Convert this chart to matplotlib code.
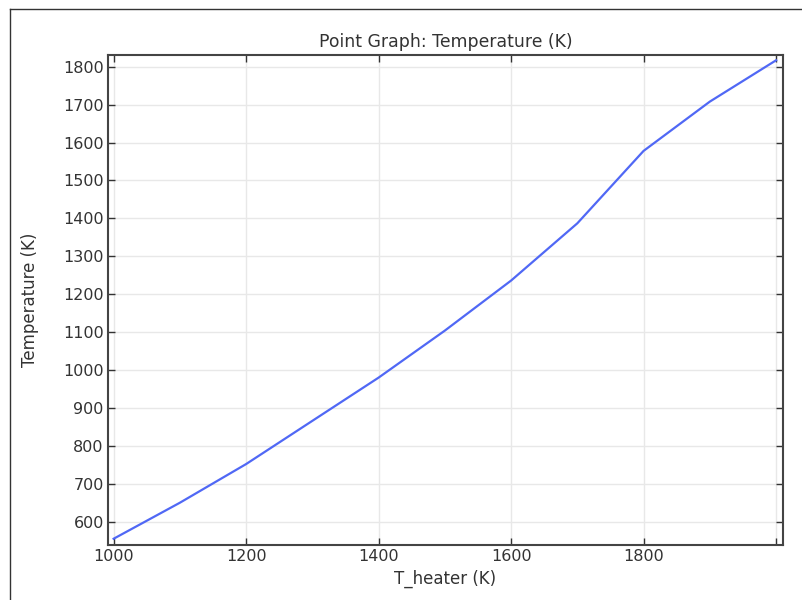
import matplotlib
matplotlib.use("Agg")
import matplotlib.pyplot as plt
from matplotlib.lines import Line2D

t_heater = [1000, 1100, 1200, 1300, 1400, 1500, 1600, 1700, 1800, 1900, 2000]
temperature = [555, 650, 752, 866, 980, 1104, 1236, 1387, 1578, 1708, 1817]
x_ticks = [1000, 1200, 1400, 1600, 1800, 2000]
x_tick_labels = ["1000", "1200", "1400", "1600", "1800", ""]
y_ticks = [600, 700, 800, 900, 1000, 1100, 1200, 1300, 1400, 1500, 1600, 1700, 1800]

plt.rcParams['font.family'] = ['DejaVu Sans']
fig = plt.figure(figsize=(8.03, 6.0), dpi=100)
ax = fig.add_axes([108/803, 1 - 545/600, (783 - 108)/803, (545 - 55)/600])

ax.plot(t_heater, temperature, color='#5068f5', linewidth=1.6)

ax.set_xlim(991.5, 2010.5)
ax.set_ylim(538.5, 1831)
ax.set_xticks(x_ticks)
ax.set_xticklabels(x_tick_labels)
ax.set_yticks(y_ticks)
ax.grid(True, color='#e8e8e8', linewidth=1.0)
ax.set_axisbelow(True)

ax.tick_params(direction='in', top=True, right=True, length=5, width=1.0,
               colors='#333333', labelsize=11.5, labelcolor='#333333', pad=3)
for s in ax.spines.values():
    s.set_color('#444444')
    s.set_linewidth(1.5)

ax.set_title("Point Graph: Temperature (K)", fontsize=12.4, color='#333333', pad=6)
ax.set_xlabel("T_heater (K)", fontsize=12, color='#333333', labelpad=4)
ax.set_ylabel("Temperature (K)", fontsize=12, color='#333333', labelpad=17)

# outer frame (partially visible)
fig.add_artist(Line2D([10/803, 10/803], [1 - 9/600, 0], transform=fig.transFigure,
                      color='#333333', linewidth=1.0))
fig.add_artist(Line2D([10/803, 1], [1 - 9/600, 1 - 9/600], transform=fig.transFigure,
                      color='#333333', linewidth=1.0))

fig.savefig("out.png", dpi=100)
